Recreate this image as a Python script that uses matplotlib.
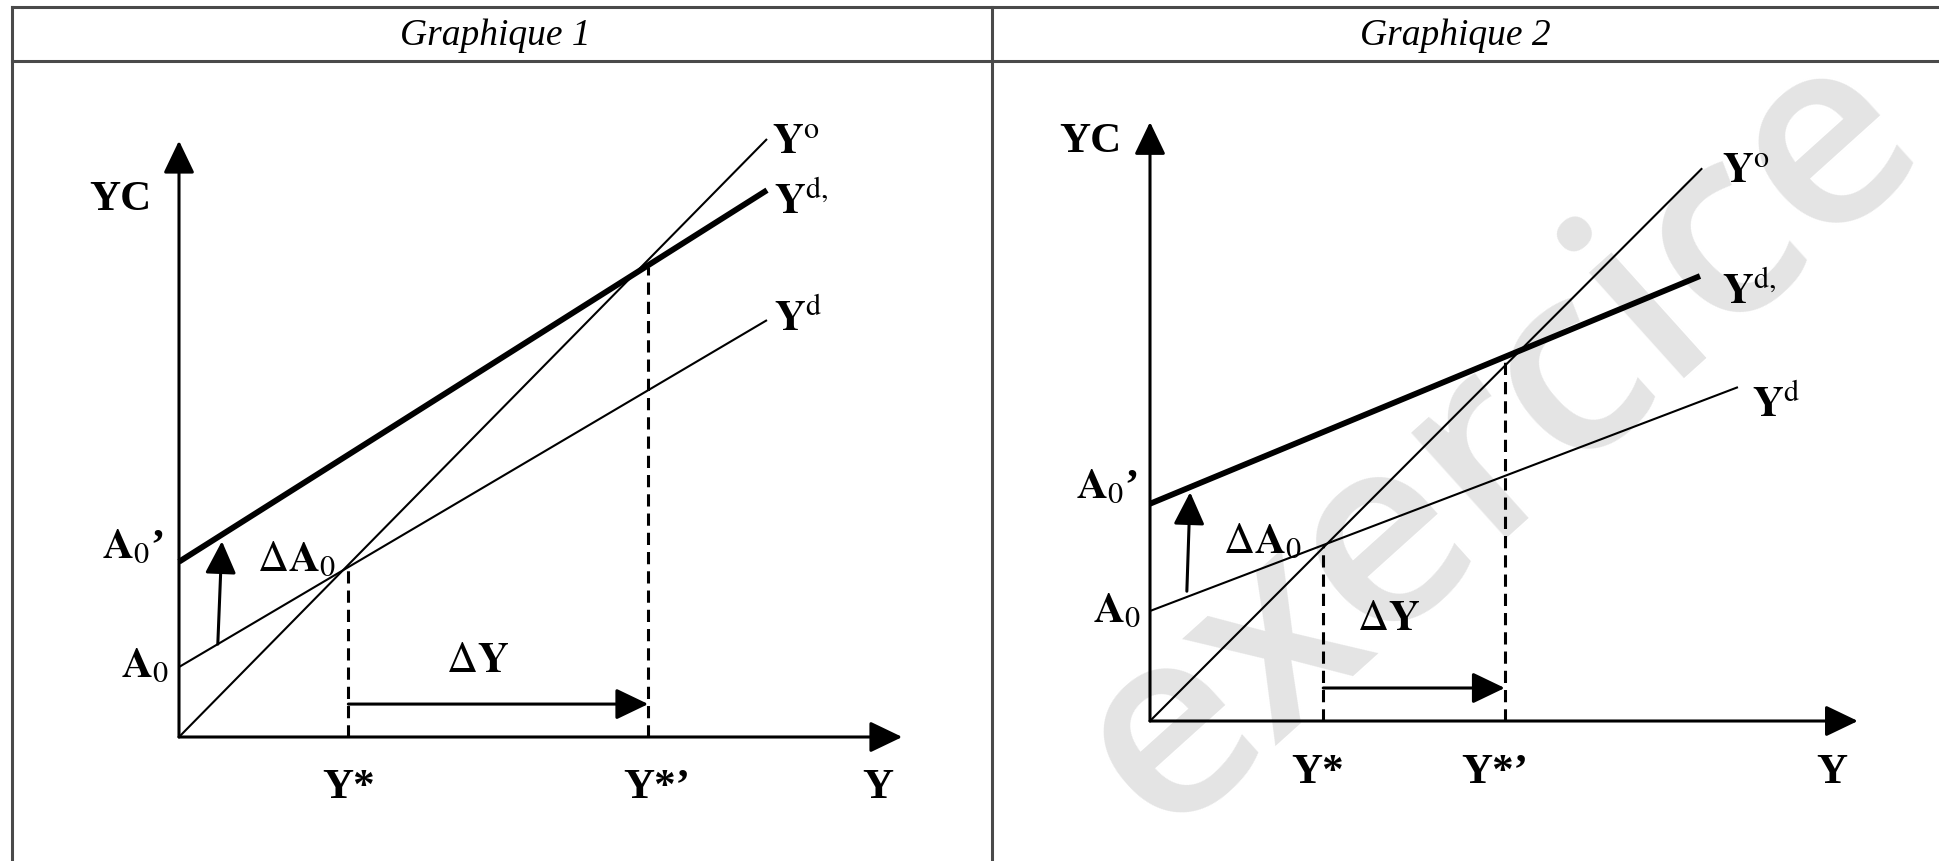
import matplotlib
matplotlib.use("Agg")
import matplotlib.pyplot as plt
from matplotlib.lines import Line2D

plt.rcParams['font.family'] = ['Liberation Serif', 'DejaVu Serif']
plt.rcParams['mathtext.fontset'] = 'stix'

# ---------------- data (economic units) ----------------
titles = ["Graphique 1", "Graphique 2"]

# Graphique 1
g1_axis_x = 12.30          # end of Y axis arrow
g1_axis_y = 10.14          # end of YC axis arrow
g1_yo = [(0.0, 0.0), (10.0, 10.17)]
g1_yd = [(0.0, 1.19), (10.0, 7.09)]
g1_ydp = [(0.0, 2.98), (10.0, 9.30)]
g1_ystar = 2.88
g1_ystar_top = 2.90
g1_ystarp = 7.98
g1_ystarp_top = 8.00
g1_dy_level = 0.56
g1_da0 = [(0.66, 1.58), (0.73, 3.33)]

# Graphique 2
g2_axis_x = 12.87
g2_axis_y = 10.89
g2_yo = [(0.0, 0.0), (10.04, 10.05)]
g2_yd = [(0.0, 2.00), (10.69, 6.07)]
g2_ydp = [(0.0, 3.95), (10.0, 8.09)]
g2_ystar = 3.15
g2_ystar_top = 3.18
g2_ystarp = 6.45
g2_ystarp_top = 6.62
g2_dy_level = 0.60
g2_da0 = [(0.67, 2.36), (0.73, 4.16)]

# label texts
lab_yc = "YC"
lab_y = "Y"
lab_ystar = "Y*"
lab_ystarp = "Y*\u2019"
lab_dy = r"$\Delta\mathbf{Y}$"
lab_da0 = r"$\Delta\mathbf{A}_0$"
lab_a0p = r"$\mathbf{A}_0$" + "\u2019"
lab_a0 = r"$\mathbf{A}_0$"
lab_yo = r"$\mathbf{Y}^{\mathrm{o}}$"
lab_ydp = r"$\mathbf{Y}^{\mathrm{d},}$"
lab_yd = r"$\mathbf{Y}^{\mathrm{d}}$"
watermark = "exercice"

# ---------------- figure ----------------
W, H = 1940, 862
fig = plt.figure(figsize=(W / 100, H / 100), dpi=100)
fig.patch.set_facecolor("white")

# watermark in a background axes (behind everything)
bg = fig.add_axes([0, 0, 1, 1], zorder=-5)
bg.axis("off")
bg.set_xlim(0, 1)
bg.set_ylim(0, 1)
bg.text(1500 / W, 1 - 440 / H, watermark, rotation=42, fontsize=190,
        family="Open Sans", weight="semibold", color="#e4e4e4",
        ha="center", va="center")

# table lines
tcol = "#4a4a4a"
for (x0, y0, x1, y1) in [(12, 8, W, 8), (12, 62, W, 62), (12, 8, 12, H), (992, 8, 992, H)]:
    fig.add_artist(Line2D([x0 / W, x1 / W], [1 - y0 / H, 1 - y1 / H],
                          transform=fig.transFigure, color=tcol, lw=2.2))

fig.text(495 / W, 1 - 36 / H, titles[0], fontsize=27, style="italic",
         ha="center", va="center")
fig.text(1455 / W, 1 - 36 / H, titles[1], fontsize=27, style="italic",
         ha="center", va="center")


def make_axes(cl, cr, top, bot, ox, oy, s):
    ax = fig.add_axes([cl / W, 1 - bot / H, (cr - cl) / W, (bot - top) / H])
    ax.set_xlim((cl - ox) / s, (cr - ox) / s)
    ax.set_ylim((oy - bot) / s, (oy - top) / s)
    ax.axis("off")
    ax.patch.set_alpha(0)
    return ax


FS = 31
AP = dict(arrowstyle="-|>,head_length=1.0,head_width=0.48", lw=2.2,
          color="black", mutation_scale=20, shrinkA=0, shrinkB=0)


def draw(ax, axis_x, axis_y, yo, yd, ydp, ystar, ystar_top, ystarp, ystarp_top,
         dy_level, da0, labels):
    # axes arrows
    ax.annotate("", xy=(0, axis_y), xytext=(0, 0), arrowprops=AP)
    ax.annotate("", xy=(axis_x, 0), xytext=(0, 0), arrowprops=AP)
    # lines
    ax.plot([p[0] for p in yo], [p[1] for p in yo], color="black", lw=1.5,
            solid_capstyle="butt")
    ax.plot([p[0] for p in yd], [p[1] for p in yd], color="black", lw=1.5,
            solid_capstyle="butt")
    ax.plot([p[0] for p in ydp], [p[1] for p in ydp], color="black", lw=4.2,
            solid_capstyle="butt")
    # dashed guides
    ax.plot([ystar, ystar], [0, ystar_top], color="black", lw=2.2,
            linestyle=(0, (4, 2.3)))
    ax.plot([ystarp, ystarp], [0, ystarp_top], color="black", lw=2.2,
            linestyle=(0, (4, 2.3)))
    # delta Y arrow
    ax.annotate("", xy=(ystarp, dy_level), xytext=(ystar, dy_level), arrowprops=AP)
    # delta A0 arrow
    ax.annotate("", xy=da0[1], xytext=da0[0], arrowprops=AP)
    # labels
    for txt, (x, y), ha in labels:
        ax.text(x, y, txt, fontsize=FS, weight="bold", ha=ha, va="center")


ax1 = make_axes(12, 992, 62, H, 179, 738, 58.8)
draw(ax1, g1_axis_x, g1_axis_y, g1_yo, g1_yd, g1_ydp, g1_ystar, g1_ystar_top,
     g1_ystarp, g1_ystarp_top, g1_dy_level, g1_da0,
     [(lab_yc, (-1.0, 9.15), "center"),
      (lab_y, (11.89, -0.85), "center"),
      (lab_ystar, (g1_ystar, -0.85), "center"),
      (lab_ystarp, (g1_ystarp + 0.15, -0.85), "center"),
      (lab_dy, (5.07, 1.29), "center"),
      (lab_da0, (2.0, 3.02), "center"),
      (lab_a0p, (-0.78, 3.22), "center"),
      (lab_a0, (-0.58, 1.21), "center"),
      (lab_yo, (10.09, 10.10), "left"),
      (lab_ydp, (10.12, 9.10), "left"),
      (lab_yd, (10.12, 7.12), "left")])

ax2 = make_axes(992, W, 62, H, 1150, 722, 55.0)
draw(ax2, g2_axis_x, g2_axis_y, g2_yo, g2_yd, g2_ydp, g2_ystar, g2_ystar_top,
     g2_ystarp, g2_ystarp_top, g2_dy_level, g2_da0,
     [(lab_yc, (-1.09, 10.55), "center"),
      (lab_y, (12.4, -0.93), "center"),
      (lab_ystar, (g2_ystar - 0.1, -0.93), "center"),
      (lab_ystarp, (g2_ystarp - 0.18, -0.93), "center"),
      (lab_dy, (4.33, 1.85), "center"),
      (lab_da0, (2.05, 3.25), "center"),
      (lab_a0p, (-0.78, 4.25), "center"),
      (lab_a0, (-0.6, 2.0), "center"),
      (lab_yo, (10.4, 9.98), "left"),
      (lab_ydp, (10.4, 7.80), "left"),
      (lab_yd, (10.95, 5.75), "left")])

fig.savefig("out.png", dpi=100, facecolor="white")
